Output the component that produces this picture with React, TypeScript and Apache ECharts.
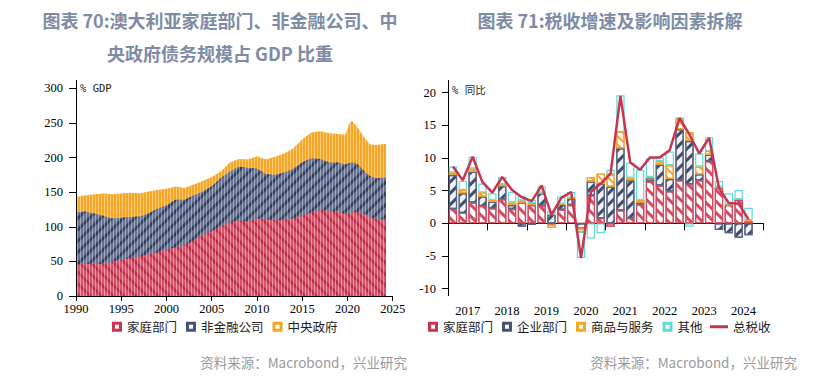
import React, { useEffect, useRef } from 'react';
import * as echarts from 'echarts';

// ---------- 图表 70 data (% GDP) ----------
const debtYears = [
  1990, 1991, 1992, 1993, 1994, 1995, 1996, 1997, 1998, 1999,
  2000, 2001, 2002, 2003, 2004, 2005, 2006, 2007, 2008, 2009,
  2010, 2011, 2012, 2013, 2014, 2015, 2016, 2017, 2018, 2019,
  2019.75, 2020.25, 2020.5, 2020.9, 2021.3, 2021.9, 2022.5, 2023.2, 2024.25,
];
const household = [
  45, 46, 47, 46, 50, 52, 55, 57, 60, 63,
  67, 70, 73, 80, 88, 94, 100, 106, 109, 107,
  112, 111, 109, 110, 112, 116, 121, 124, 123, 122,
  118, 120, 121, 121, 121, 118, 114, 110, 111,
];
const nonFinCorp = [
  76, 76, 72, 70, 62, 61, 59, 58, 59, 63,
  64, 69, 66, 65, 63, 64, 70, 74, 78, 78,
  72, 65, 66, 68, 72, 77, 78, 74, 70, 71,
  72, 72, 72, 71, 67, 62, 59, 60, 60,
];
const centralGov = [
  22, 23, 28, 32, 35, 35, 35, 33, 32, 27,
  24, 19, 17, 16, 15, 14, 10, 13, 11, 12,
  18, 21, 26, 28, 29, 33, 37, 40, 42, 41,
  43, 58, 60, 55, 52, 48, 46, 48, 49,
];
const debtLegend = ['家庭部门', '非金融公司', '中央政府'];

// ---------- 图表 71 data (% 同比) ----------
const yearLabels = ['2017', '2018', '2019', '2020', '2021', '2022', '2023', '2024'];
const quarters = yearLabels.flatMap((y) => ['Q1', 'Q2', 'Q3', 'Q4'].map((q) => y + q));
const hhContrib = [
  2.2, 1.6, 3.2, 2.65, 2.3, 3.7, 2.2, 3.2, 2.8, 2.7, -0.2, 2.1, 2.8, 0, 4.3, 0.8,
  -0.5, 2.0, 0.8, 2.9, 6.4, 5.8, 4.9, 6.6, 6.0, 6.6, 9.5, 5.5, 2.8, 3.6, 0.35,
];
const corpContrib = [
  5.2, 3.0, 4.7, 1.45, 1.0, 2.0, 0.6, -0.5, -0.25, 1.9, 1.3, 0.8, 1.0, -0.8, 2.1, 5.3,
  5.6, 9.5, 5.8, 0.3, 0.5, 3.2, 1.9, 7.8, 6.6, 0.9, 1.0, -1.0, -1.5, -2.2, -1.8,
];
const goodsContrib = [
  0.4, 0.5, 0.5, 0.65, 0.3, 0.3, 0.4, 0.3, 0.3, 0.1, -0.5, 0.1, 0.1, -0.5, 0.7, 1.55,
  1.9, 2.5, 0.4, 0.4, 0.2, 0.5, 2.1, 1.7, 1.4, 1.2, 0.6, 0.1, 0.1, 0.1, 0.15,
];
const otherContrib = [
  0.9, 1.4, 1.8, 1.35, 1.0, 1.1, 1.65, 0.7, 0.5, 1.0, 0.6, 1.1, 0.9, -4.0, -2.3, -1.5,
  0.7, 5.6, 2.3, 4.6, 2.9, 0.6, 2.1, 0.1, -0.5, 2.0, 2.1, 0.9, 1.7, 1.4, 1.9,
];
const totalTax = [
  8.7, 6.6, 10.2, 6.3, 4.7, 7.1, 5.1, 4.0, 3.4, 5.8, 1.3, 3.9, 4.8, -5.3, 4.8, 6.1,
  7.6, 19.5, 9.3, 8.2, 10.1, 10.1, 11.2, 16.1, 13.6, 10.7, 13.1, 5.4, 3.1, 3.0, 0.6,
];
const taxBarLegend = ['家庭部门', '企业部门', '商品与服务', '其他'];
const taxLineLegend = '总税收';

// ---------- styles ----------
const CJK = '"Noto Sans CJK SC", "Noto Sans", sans-serif';
const SERIF = '"Liberation Serif", "DejaVu Serif", serif';
const TITLE_COLOR = '#7d8ca4';
const iconHole = 'path://M0,0H10V10H0Z M3,3V7H7V3Z';

const stripe = (color: string, rotation: number, w = 2, gap = 5) => ({
  symbol: 'rect',
  symbolSize: 1,
  dashArrayX: [1, 0],
  dashArrayY: [w, gap],
  rotation,
  color,
});

function debtOption(): any {
  // cumulative tops, painted back to front (each area filled down to 0)
  const topCorp = household.map((h, i) => h + nonFinCorp[i]);
  const topGov = topCorp.map((v, i) => v + centralGov[i]);
  const mk = (name: string, vals: number[], color: string, area: string, decal: any) => ({
    name,
    type: 'line',
    data: debtYears.map((y, i) => [y, vals[i]]),
    showSymbol: false,
    symbol: 'none',
    color,
    lineStyle: { width: 0, color, decal },
    itemStyle: { color, decal },
    areaStyle: { color: area, opacity: 1 },
  });
  const overlayDecal = stripe('rgba(255,255,255,0.4)', Math.PI / 2, 1, 1.3);
  return {
    animation: false,
    grid: { left: 76, right: 22.3, top: 88.3, bottom: 83 },
    xAxis: {
      type: 'value',
      min: 1990,
      max: 2025,
      interval: 5,
      axisLine: { show: true, lineStyle: { color: '#000', width: 1 } },
      axisTick: { show: true, length: 5, lineStyle: { color: '#000' } },
      axisLabel: {
        color: '#000', fontFamily: SERIF, fontSize: 12.5, margin: 6,
        showMinLabel: true, showMaxLabel: true, formatter: (v: number) => String(v),
      },
      splitLine: { show: false },
    },
    yAxis: {
      type: 'value',
      min: 0,
      max: 300,
      interval: 50,
      axisLine: { show: false },
      axisTick: { show: true, length: 7, lineStyle: { color: '#000' } },
      axisLabel: { color: '#000', fontFamily: SERIF, fontSize: 12.5, margin: 13 },
      splitLine: { show: false },
    },
    legend: {
      left: 107,
      top: 315.5,
      itemWidth: 10,
      itemHeight: 10,
      itemGap: 9,
      textStyle: { fontFamily: CJK, fontSize: 12.5, color: '#222' },
      data: [
        { name: debtLegend[0], icon: iconHole, itemStyle: { color: '#c9354e', decal: 'none' } },
        { name: debtLegend[1], icon: iconHole, itemStyle: { color: '#475574', decal: 'none' } },
        { name: debtLegend[2], icon: iconHole, itemStyle: { color: '#f5a623', decal: 'none' } },
      ],
    },
    graphic: [
      { type: 'line', shape: { x1: 76.5, y1: 80, x2: 76.5, y2: 296 }, style: { stroke: '#000', lineWidth: 1 }, z: 100 },
      { type: 'text', x: 220, y: 20, style: { text: '图表 70:澳大利亚家庭部门、非金融公司、中', font: `bold 18px ${CJK}`, fill: TITLE_COLOR, align: 'center', verticalAlign: 'middle' } },
      { type: 'text', x: 220, y: 53, style: { text: '央政府债务规模占 GDP 比重', font: `bold 18px ${CJK}`, fill: TITLE_COLOR, align: 'center', verticalAlign: 'middle' } },
      { type: 'text', x: 80, y: 88, style: { text: '% GDP', font: `10.5px "DejaVu Sans Mono", monospace`, fill: '#222', align: 'left', verticalAlign: 'middle' } },
      { type: 'text', x: 407, y: 362, style: { text: '资料来源：Macrobond，兴业研究', font: `13.5px ${CJK}`, fill: '#9a9a9a', align: 'right', verticalAlign: 'middle' } },
    ],
    series: [
      mk(debtLegend[2], topGov, '#f5a623', '#f5a623', null),
      mk(debtLegend[1], topCorp, '#475574', '#66728f', stripe('#2f3b5e', -Math.PI / 4, 3, 5)),
      mk(debtLegend[0], household, '#c9354e', '#d75369', stripe('#bf2a45', Math.PI / 4, 3, 5)),
      // texture overlay: thin light vertical lines over the whole stacked area (quarterly bar look)
      {
        name: 'texture',
        type: 'line',
        data: debtYears.map((y, i) => [y, topGov[i]]),
        showSymbol: false,
        symbol: 'none',
        silent: true,
        color: 'rgba(255,255,255,0.01)',
        lineStyle: { width: 0, decal: overlayDecal },
        itemStyle: { color: 'rgba(255,255,255,0.01)', decal: overlayDecal },
        areaStyle: { color: 'rgba(255,255,255,0.01)', opacity: 1 },
        z: 3,
      },
    ],
  };
}

function taxOption(): any {
  const bar = (name: string, vals: number[], fill: string, border: string, decal: any) => ({
    name,
    type: 'bar',
    stack: 'tax',
    xAxisIndex: 1,
    barCategoryGap: '15%',
    data: vals,
    itemStyle: { color: fill, borderColor: border, borderWidth: 1.2, decal },
  });
  return {
    animation: false,
    grid: { left: 33, right: 65.7, top: 92.7, bottom: 90.3 },
    xAxis: [
      {
        type: 'category',
        data: yearLabels,
        boundaryGap: true,
        offset: 7.3,
        axisLine: { show: true, lineStyle: { color: '#000' } },
        axisTick: { show: true, length: 7, interval: 0, lineStyle: { color: '#000' } },
        axisLabel: { color: '#000', fontFamily: SERIF, fontSize: 12.5, margin: 8, interval: 0 },
        splitLine: { show: false },
      },
      { type: 'category', data: quarters, show: false },
    ],
    yAxis: {
      type: 'value',
      min: -10,
      max: 20,
      interval: 5,
      axisLine: { show: false },
      axisTick: { show: true, length: 6, lineStyle: { color: '#000' } },
      axisLabel: { color: '#000', fontFamily: SERIF, fontSize: 12.5, margin: 12 },
      splitLine: { show: false },
    },
    legend: [
      {
        left: 8,
        top: 315.5,
        itemWidth: 10,
        itemHeight: 10,
        itemGap: 9,
        textStyle: { fontFamily: CJK, fontSize: 12.5, color: '#222' },
        data: [
          { name: taxBarLegend[0], icon: iconHole, itemStyle: { color: '#c9354e', borderWidth: 0, decal: 'none' } },
          { name: taxBarLegend[1], icon: iconHole, itemStyle: { color: '#475574', borderWidth: 0, decal: 'none' } },
          { name: taxBarLegend[2], icon: iconHole, itemStyle: { color: '#f5a623', borderWidth: 0, decal: 'none' } },
          { name: taxBarLegend[3], icon: iconHole, itemStyle: { color: '#5fdcd8', borderWidth: 0, decal: 'none' } },
        ],
      },
      {
        left: 290,
        top: 315.5,
        itemWidth: 18,
        itemHeight: 3,
        textStyle: { fontFamily: CJK, fontSize: 12.5, color: '#222' },
        data: [{ name: taxLineLegend, icon: 'rect' }],
      },
    ],
    graphic: [
      { type: 'line', shape: { x1: 33.5, y1: 80, x2: 33.5, y2: 296 }, style: { stroke: '#000', lineWidth: 1 } },
      { type: 'text', x: 195, y: 20, style: { text: '图表 71:税收增速及影响因素拆解', font: `bold 18px ${CJK}`, fill: TITLE_COLOR, align: 'center', verticalAlign: 'middle' } },
      { type: 'text', x: 37, y: 90, style: { text: '% 同比', font: `10.5px "DejaVu Sans Mono", ${CJK}`, fill: '#222', align: 'left', verticalAlign: 'middle' } },
      { type: 'text', x: 382, y: 362, style: { text: '资料来源：Macrobond，兴业研究', font: `13.5px ${CJK}`, fill: '#9a9a9a', align: 'right', verticalAlign: 'middle' } },
    ],
    series: [
      bar(taxBarLegend[0], hhContrib, '#ffffff', '#d24c62', stripe('#d24c62', Math.PI / 4, 2.2, 5)),
      bar(taxBarLegend[1], corpContrib, '#f1f2f5', '#5a6683', stripe('#3f4c6b', -Math.PI / 4, 2.2, 5)),
      bar(taxBarLegend[2], goodsContrib, '#ffffff', '#f5a32a', stripe('#f5a32a', Math.PI / 4, 1.5, 4)),
      bar(taxBarLegend[3], otherContrib, '#ffffff', '#5fdcd8', null),
      {
        name: taxLineLegend,
        type: 'line',
        xAxisIndex: 1,
        data: totalTax,
        color: '#c8354f',
        showSymbol: false,
        symbol: 'none',
        lineStyle: { width: 2.5, color: '#c8354f' },
        z: 10,
      },
    ],
  };
}

export default function App() {
  const leftRef = useRef<HTMLDivElement>(null);
  const rightRef = useRef<HTMLDivElement>(null);

  useEffect(() => {
    const left = echarts.init(leftRef.current!, null, { renderer: 'svg' });
    const right = echarts.init(rightRef.current!, null, { renderer: 'svg' });
    left.setOption(debtOption());
    right.setOption(taxOption());
    return () => {
      left.dispose();
      right.dispose();
    };
  }, []);

  return (
    <div style={{ position: 'fixed', left: 0, top: 0, width: 829, height: 379, background: '#fff' }}>
      <div ref={leftRef} style={{ position: 'absolute', left: 0, top: 0, width: 415, height: 379 }} />
      <div ref={rightRef} style={{ position: 'absolute', left: 415, top: 0, width: 414, height: 379 }} />
    </div>
  );
}
